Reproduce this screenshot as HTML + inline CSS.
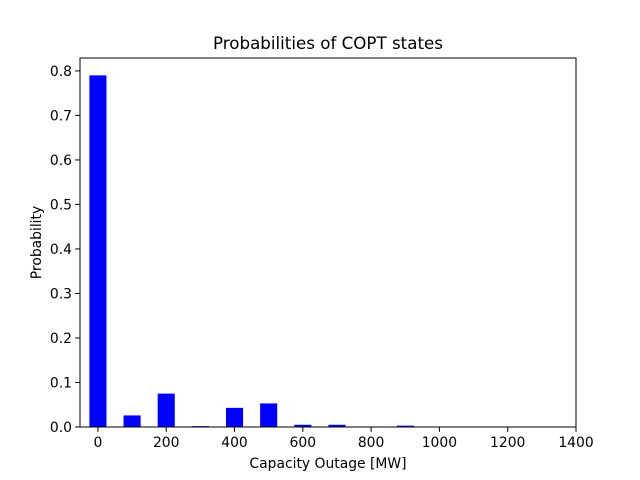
<!DOCTYPE html>
<html><head><meta charset="utf-8"><style>
body{margin:0;background:#fff;}
svg{display:block;font-family:"DejaVu Sans","Liberation Sans",sans-serif;}
</style></head><body>
<svg id="chart" width="640" height="480">
<rect width="640" height="480" fill="#fff"/>
<text x="328" y="49" text-anchor="middle" font-size="16.7">Probabilities of COPT states</text>
<g id="bars"></g>
<g id="axes"></g>
<rect x="80" y="58" width="496" height="369" fill="none" stroke="#000" stroke-width="1"/>
<text x="328" y="468" text-anchor="middle" font-size="13.9">Capacity Outage [MW]</text>
<text transform="translate(41,242.5) rotate(-90)" text-anchor="middle" font-size="13.9">Probability</text>
</svg>
<script>
const categories=[0,100,200,300,400,500,600,700,800,900];
const probabilities=[0.79,0.026,0.075,0.002,0.043,0.053,0.005,0.005,0.0,0.003];
const xTicks=[0,200,400,600,800,1000,1200,1400];
const yTicks=[0,0.1,0.2,0.3,0.4,0.5,0.6,0.7,0.8];
const NS="http://www.w3.org/2000/svg";
const L=80,R=576,T=58,B=427,xmin=-52.5,xmax=1400,ymin=0,ymax=0.829;
const xs=v=>L+(v-xmin)/(xmax-xmin)*(R-L);
const ys=v=>B-(v-ymin)/(ymax-ymin)*(B-T);
const bars=document.getElementById('bars'),axes=document.getElementById('axes');
categories.forEach((c,i)=>{
  const r=document.createElementNS(NS,'rect');
  const x0=xs(c-25),x1=xs(c+25);
  r.setAttribute('x',x0);r.setAttribute('width',x1-x0);
  r.setAttribute('y',ys(probabilities[i]));r.setAttribute('height',B-ys(probabilities[i]));
  r.setAttribute('fill','#0000ff');
  
  
  bars.appendChild(r);
});
xTicks.forEach(t=>{
  const x=xs(t);
  const l=document.createElementNS(NS,'line');
  l.setAttribute('x1',x);l.setAttribute('x2',x);l.setAttribute('y1',B);l.setAttribute('y2',B+4.9);l.setAttribute('stroke','#000');
  
  
  axes.appendChild(l);
  const tx=document.createElementNS(NS,'text');
  tx.setAttribute('x',x);tx.setAttribute('y',B+20);tx.setAttribute('text-anchor','middle');tx.setAttribute('font-size','13.9');
  tx.textContent=t;
  
  
  axes.appendChild(tx);
});
yTicks.forEach(t=>{
  const y=ys(t);
  const l=document.createElementNS(NS,'line');
  l.setAttribute('x1',L-4.9);l.setAttribute('x2',L);l.setAttribute('y1',y);l.setAttribute('y2',y);l.setAttribute('stroke','#000');
  
  
  axes.appendChild(l);
  const tx=document.createElementNS(NS,'text');
  tx.setAttribute('x',L-8);tx.setAttribute('y',y+5);tx.setAttribute('text-anchor','end');tx.setAttribute('font-size','13.9');
  tx.textContent=t.toFixed(1);
  
  
  axes.appendChild(tx);
});
</script>
</body></html>
